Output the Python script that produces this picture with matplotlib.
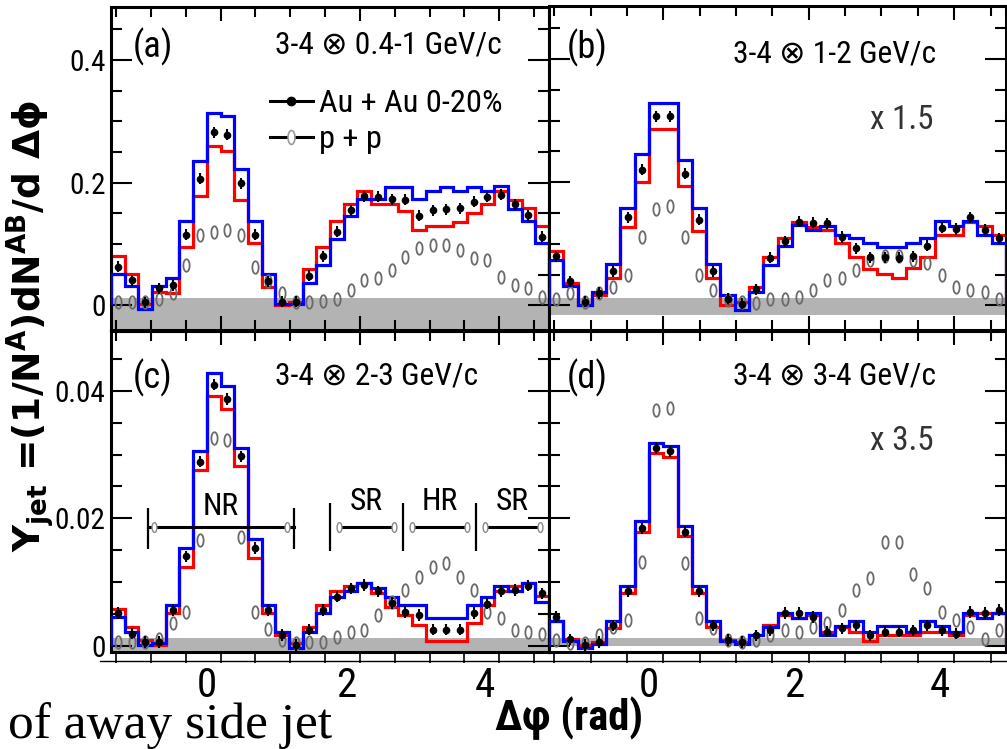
import numpy as np
import matplotlib
matplotlib.use('Agg')
import matplotlib.pyplot as plt
import matplotlib.transforms as mtransforms
from matplotlib.lines import Line2D
from matplotlib.path import Path
from matplotlib.ticker import MultipleLocator, FuncFormatter
from matplotlib import font_manager

# 32 bins of pi/16 from -pi/2 to 3pi/2
edges = np.linspace(-np.pi / 2, 3 * np.pi / 2, 33)
centers = 0.5 * (edges[:-1] + edges[1:])

# (a) 3-4 x 0.4-1 GeV/c
aa_a = [0.063, 0.041, 0.005, 0.028, 0.033, 0.115, 0.206, 0.282, 0.278, 0.199, 0.115, 0.039, 0.006, 0.006, 0.048, 0.080,
        0.120, 0.155, 0.178, 0.177, 0.173, 0.172, 0.146, 0.155, 0.157, 0.158, 0.169, 0.177, 0.180, 0.165, 0.147, 0.112]
blue_a = [0.052, 0.032, -0.0065, 0.032, 0.045, 0.137, 0.236, 0.314, 0.309, 0.222, 0.137, 0.052, 0.002, 0.002, 0.037, 0.066,
          0.108, 0.146, 0.173, 0.173, 0.193, 0.193, 0.173, 0.187, 0.193, 0.187, 0.193, 0.187, 0.195, 0.157, 0.138, 0.101]
red_a = [0.080, 0.052, 0.002, 0.022, 0.021, 0.095, 0.178, 0.259, 0.251, 0.172, 0.101, 0.030, 0.000, 0.006, 0.059, 0.095,
         0.137, 0.166, 0.187, 0.166, 0.165, 0.153, 0.123, 0.129, 0.129, 0.136, 0.150, 0.166, 0.187, 0.172, 0.158, 0.129]
pp_a = [0.006, 0.006, 0.006, 0.010, 0.020, 0.066, 0.115, 0.120, 0.123, 0.115, 0.063, 0.039, 0.020, 0.006, 0.006, 0.008,
        0.011, 0.025, 0.041, 0.044, 0.058, 0.079, 0.093, 0.098, 0.098, 0.090, 0.077, 0.074, 0.047, 0.033, 0.028, 0.014]

# (b) 3-4 x 1-2 GeV/c (x 1.5)
aa_b = [0.080, 0.039, 0.006, 0.020, 0.055, 0.143, 0.220, 0.307, 0.307, 0.214, 0.139, 0.055, 0.011, 0.003, 0.026, 0.077,
        0.104, 0.136, 0.134, 0.133, 0.111, 0.093, 0.078, 0.078, 0.077, 0.080, 0.097, 0.126, 0.124, 0.143, 0.123, 0.109]
blue_b = [0.074, 0.032, 0.0005, 0.022, 0.067, 0.158, 0.245, 0.329, 0.329, 0.236, 0.158, 0.067, 0.017, -0.007, 0.022, 0.066,
          0.096, 0.131, 0.123, 0.129, 0.115, 0.109, 0.101, 0.095, 0.095, 0.101, 0.109, 0.137, 0.129, 0.137, 0.115, 0.101]
red_b = [0.089, 0.037, 0.000, 0.017, 0.044, 0.128, 0.200, 0.286, 0.286, 0.193, 0.120, 0.044, 0.000, 0.006, 0.030, 0.079,
         0.109, 0.136, 0.127, 0.123, 0.101, 0.079, 0.059, 0.051, 0.044, 0.060, 0.079, 0.115, 0.115, 0.136, 0.129, 0.115]
pp_b = [0.011, 0.020, 0.006, 0.020, 0.030, 0.049, 0.111, 0.157, 0.162, 0.111, 0.049, 0.025, 0.009, 0.006, 0.004, 0.011,
        0.011, 0.014, 0.025, 0.041, 0.044, 0.058, 0.074, 0.080, 0.080, 0.074, 0.068, 0.049, 0.030, 0.025, 0.022, 0.011]

# (c) 3-4 x 2-3 GeV/c
aa_c = [0.0051, 0.0019, 0.0006, 0.0006, 0.0056, 0.0140, 0.0289, 0.0410, 0.0387, 0.0297, 0.0153, 0.0056, 0.0017, 0.0001, 0.0025, 0.0056,
        0.0077, 0.0090, 0.0095, 0.0085, 0.0067, 0.0053, 0.0048, 0.0025, 0.0025, 0.0025, 0.0051, 0.0066, 0.0086, 0.0087, 0.0094, 0.0082]
blue_c = [0.0045, 0.0022, 0.0001, 0.0004, 0.0064, 0.0153, 0.0305, 0.0428, 0.0407, 0.0311, 0.0167, 0.0064, 0.0022, -0.0004, 0.0022, 0.0051,
          0.0077, 0.0085, 0.0098, 0.0090, 0.0077, 0.0064, 0.0064, 0.0043, 0.0043, 0.0043, 0.0064, 0.0077, 0.0093, 0.0085, 0.0098, 0.0069]
red_c = [0.0057, 0.0030, 0.0009, 0.0001, 0.0052, 0.0124, 0.0276, 0.0392, 0.0371, 0.0282, 0.0137, 0.0051, 0.0017, 0.0004, 0.0030, 0.0064,
         0.0085, 0.0093, 0.0098, 0.0082, 0.0061, 0.0048, 0.0032, 0.0008, 0.0008, 0.0008, 0.0035, 0.0064, 0.0085, 0.0093, 0.0098, 0.0078]
pp_c = [0.0006, 0.0006, 0.0006, 0.0010, 0.0035, 0.0053, 0.0166, 0.0326, 0.0323, 0.0171, 0.0053, 0.0026, 0.0009, 0.0004, 0.0005, 0.0006,
        0.0014, 0.0022, 0.0025, 0.0048, 0.0069, 0.0088, 0.0108, 0.0124, 0.0129, 0.0108, 0.0088, 0.0053, 0.0043, 0.0025, 0.0022, 0.0019]

# (d) 3-4 x 3-4 GeV/c (x 3.5)
aa_d = [0.0045, 0.0010, 0.0001, 0.0006, 0.0032, 0.0085, 0.0184, 0.0310, 0.0305, 0.0179, 0.0085, 0.0032, 0.0009, 0.0006, 0.0016, 0.0024,
        0.0051, 0.0051, 0.0045, 0.0022, 0.0027, 0.0032, 0.0016, 0.0022, 0.0022, 0.0024, 0.0032, 0.0024, 0.0019, 0.0053, 0.0051, 0.0056]
blue_d = [0.0038, 0.0008, -0.0004, 0.0002, 0.0038, 0.0093, 0.0195, 0.0318, 0.0313, 0.0188, 0.0093, 0.0038, 0.0008, 0.0002, 0.0016, 0.0030,
          0.0052, 0.0044, 0.0052, 0.0017, 0.0031, 0.0038, 0.0022, 0.0031, 0.0031, 0.0022, 0.0038, 0.0031, 0.0022, 0.0052, 0.0043, 0.0052]
red_d = [0.0038, 0.0011, 0.0001, 0.0006, 0.0027, 0.0083, 0.0179, 0.0303, 0.0296, 0.0172, 0.0083, 0.0030, 0.0009, 0.0006, 0.0016, 0.0032,
         0.0048, 0.0043, 0.0048, 0.0022, 0.0030, 0.0022, 0.0008, 0.0016, 0.0016, 0.0016, 0.0022, 0.0022, 0.0016, 0.0048, 0.0052, 0.0052]
pp_d = [0.0009, 0.0004, 0.0004, 0.0016, 0.0030, 0.0040, 0.0132, 0.0370, 0.0373, 0.0129, 0.0043, 0.0027, 0.0009, 0.0006, 0.0009, 0.0016,
        0.0025, 0.0022, 0.0030, 0.0035, 0.0056, 0.0087, 0.0106, 0.0163, 0.0163, 0.0113, 0.0090, 0.0053, 0.0040, 0.0030, 0.0011, 0.0025]

aa_err = [0.009, 0.009, 0.0009, 0.0009]
bands = [(-0.05, 0.0125), (-0.016, 0.012), (-0.002, 0.0012), (-0.0001, 0.0012)]
titles = ['3-4 \u2297 0.4-1 GeV/c', '3-4 \u2297 1-2 GeV/c', '3-4 \u2297 2-3 GeV/c', '3-4 \u2297 3-4 GeV/c']
letters = ['(a)', '(b)', '(c)', '(d)']
scales = [None, 'x 1.5', None, 'x 3.5']

# jet regions in panel (c)
reg_names = ['NR', 'SR', 'HR', 'SR']
reg_lo = [-np.pi / 3, np.pi / 2, 5 * np.pi / 6, 7 * np.pi / 6]
reg_hi = [np.pi / 3, 5 * np.pi / 6, 7 * np.pi / 6, 3 * np.pi / 2]

# pick a narrow sans if one is installed, sizes are tuned for Liberation Sans
names = {f.name for f in font_manager.fontManager.ttflist}
if 'Liberation Sans Narrow' in names:
    BASE, FW = 'Liberation Sans Narrow', 0.82
elif 'Roboto Condensed' in names:
    BASE, FW = 'Roboto Condensed', 0.88
else:
    BASE, FW = 'Liberation Sans', 1.0
FAM = [BASE, 'DejaVu Sans']
plt.rcParams['font.family'] = FAM


def fs(size):
    return size / FW


t = np.linspace(0, 2 * np.pi, 41)
ELLIPSE = Path(np.column_stack([0.5 * np.cos(t), np.sin(t)]), closed=True)


def add_panel(ax, aa, err, pp, red, blue, band, ylim, major, minor, bottom_row):
    ax.axhspan(band[0], band[1], color='#b3b3b3', lw=0, zorder=0)
    ax.stairs(red, edges, color='red', lw=2.3, zorder=2)
    ax.stairs(blue, edges, color='blue', lw=2.3, zorder=3)
    ax.plot(centers, pp, ls='none', marker=ELLIPSE, ms=9, mfc='none', mec='#6a6a6a', mew=1.3, zorder=4)
    ax.errorbar(centers, aa, yerr=err, fmt='o', color='k', ms=4.5, elinewidth=1.5, capsize=0, zorder=5)
    ax.set_xlim(edges[0], edges[-1])
    ax.set_ylim(ylim)
    ax.xaxis.set_major_locator(MultipleLocator(2))
    ax.xaxis.set_minor_locator(MultipleLocator(0.5))
    ax.yaxis.set_major_locator(MultipleLocator(major))
    ax.yaxis.set_minor_locator(MultipleLocator(minor))
    ax.yaxis.set_major_formatter(FuncFormatter(lambda v, p: '0' if abs(v) < 1e-9 else '%g' % v))
    ax.tick_params(axis='y', which='both', direction='in', left=True, right=True, width=1.5,
                   labelsize=fs(18.5), pad=4)
    ax.tick_params(axis='y', which='major', length=15)
    ax.tick_params(axis='y', which='minor', length=8)
    for s in ax.spines.values():
        s.set_linewidth(2.2)
    if bottom_row:
        ax.tick_params(axis='x', which='both', direction='out', top=False, length=8, width=1.2,
                       labelsize=fs(26), pad=2)
        sec = ax.secondary_xaxis('top')
        sec.xaxis.set_major_locator(MultipleLocator(2))
        sec.xaxis.set_minor_locator(MultipleLocator(0.5))
        sec.tick_params(which='both', direction='in', labeltop=False, width=1.5)
        sec.tick_params(which='major', length=10)
        sec.tick_params(which='minor', length=7)
        sec.spines['top'].set_linewidth(2.2)
    else:
        ax.tick_params(axis='x', which='both', direction='in', top=True, bottom=True, labelbottom=False, width=1.5)
        ax.tick_params(axis='x', which='major', length=10)
        ax.tick_params(axis='x', which='minor', length=7)


def main():
    fig = plt.figure(figsize=(10.07, 7.49), dpi=100)
    W, H = 1007.0, 749.0
    ax_a = fig.add_axes([111 / W, 1 - 330 / H, 438 / W, 323 / H])
    ax_b = fig.add_axes([549 / W, 1 - 330 / H, 457 / W, 324 / H])
    ax_c = fig.add_axes([111 / W, 1 - 652 / H, 438 / W, 321 / H])
    ax_d = fig.add_axes([549 / W, 1 - 652 / H, 457 / W, 321 / H])
    axes = [ax_a, ax_b, ax_c, ax_d]

    top_lim = (-0.040, 0.486)
    bot_lim = (-0.0010, 0.0494)
    add_panel(ax_a, aa_a, aa_err[0], pp_a, red_a, blue_a, bands[0], top_lim, 0.2, 0.05, False)
    add_panel(ax_b, aa_b, aa_err[1], pp_b, red_b, blue_b, bands[1], top_lim, 0.2, 0.05, False)
    add_panel(ax_c, aa_c, aa_err[2], pp_c, red_c, blue_c, bands[2], bot_lim, 0.02, 0.005, True)
    add_panel(ax_d, aa_d, aa_err[3], pp_d, red_d, blue_d, bands[3], bot_lim, 0.02, 0.005, True)
    ax_b.tick_params(axis='y', labelleft=False)
    ax_d.tick_params(axis='y', labelleft=False)

    # tick labels sit a bit left of their ticks in the original
    shift = mtransforms.ScaledTranslation(-14 / 100, 0, fig.dpi_scale_trans)
    for ax in (ax_c, ax_d):
        for lab in ax.get_xticklabels():
            lab.set_transform(lab.get_transform() + shift)

    letter_pos = [(0.050, 0.876), (0.039, 0.870), (0.050, 0.855), (0.039, 0.855)]
    title_pos = [(0.374, 0.881), (0.403, 0.853), (0.374, 0.861), (0.403, 0.861)]
    scale_pos = [None, (0.702, 0.648), None, (0.702, 0.656)]
    for i, ax in enumerate(axes):
        ax.text(*letter_pos[i], letters[i], transform=ax.transAxes, fontsize=fs(23), va='center', ha='left')
        ax.text(*title_pos[i], titles[i], transform=ax.transAxes, fontsize=fs(20), va='center', ha='left')
        if scales[i]:
            ax.text(*scale_pos[i], scales[i], transform=ax.transAxes, fontsize=fs(21), va='center', ha='left',
                    color='#333333')

    # legend in (a)
    h1 = Line2D([], [], color='k', lw=2.2, marker='o', ms=6)
    h2 = Line2D([], [], color='k', lw=2.2, marker=ELLIPSE, ms=10, mfc='white', mec='#9a9a9a', mew=1.2)
    ax_a.legend([h1, h2], ['Au + Au 0-20%', 'p + p'], loc='upper left', bbox_to_anchor=(0.363, 0.745),
                frameon=False, fontsize=fs(20.5), handlelength=1.5 * FW, handletextpad=0.2, borderpad=0,
                borderaxespad=0, labelspacing=0.2)

    # NR / SR / HR regions in (c)
    for k in range(len(reg_names)):
        lo, hi = reg_lo[k], reg_hi[k]
        if k == 0:
            ax_c.vlines([lo, hi], 0.0151, 0.0216, color='k', lw=1.6)
            x0, x1, m0, m1, ty = lo, hi, lo + 0.09, hi - 0.09, 0.0219
        else:
            ax_c.vlines([lo], 0.0149, 0.0224, color='k', lw=1.6)
            x0, x1, m0, m1, ty = lo + 0.13, hi - 0.13, lo + 0.13, hi - 0.13, 0.0227
        ax_c.plot([x0, x1], [0.0186, 0.0186], color='k', lw=2.2, zorder=6)
        ax_c.plot([m0, m1], [0.0186, 0.0186], ls='none', marker=ELLIPSE, ms=7, mfc='white', mec='#8a8a8a',
                  mew=1.0, zorder=7)
        ax_c.text(0.5 * (lo + hi), ty, reg_names[k], fontsize=fs(20), ha='center', va='center', zorder=8)

    # thin baseline under the bottom ticks
    fig.add_artist(Line2D([100 / W, 1.0], [1 - 661 / H, 1 - 661 / H], transform=fig.transFigure,
                          color='k', lw=1.0))

    fig.text(31 / W, 1 - 326 / H,
             r'Y$_{\mathbf{jet}}$ =(1/N$^{\mathbf{A}}$)dN$^{\mathbf{AB}}$/d $\mathbf{\Delta\phi}$',
             rotation=90, ha='center', va='center', fontsize=27, fontweight='bold', family='DejaVu Sans')
    fig.text(569 / W, 1 - 718 / H, '\u0394\u03c6 (rad)', ha='center', va='center', fontsize=fs(27),
             fontweight='bold')
    fig.text(8 / W, 1 - 738 / H, 'of away side jet', ha='left', va='baseline', fontsize=37,
             family='Liberation Serif')

    fig.savefig('out.png', dpi=100)


if __name__ == '__main__':
    main()
